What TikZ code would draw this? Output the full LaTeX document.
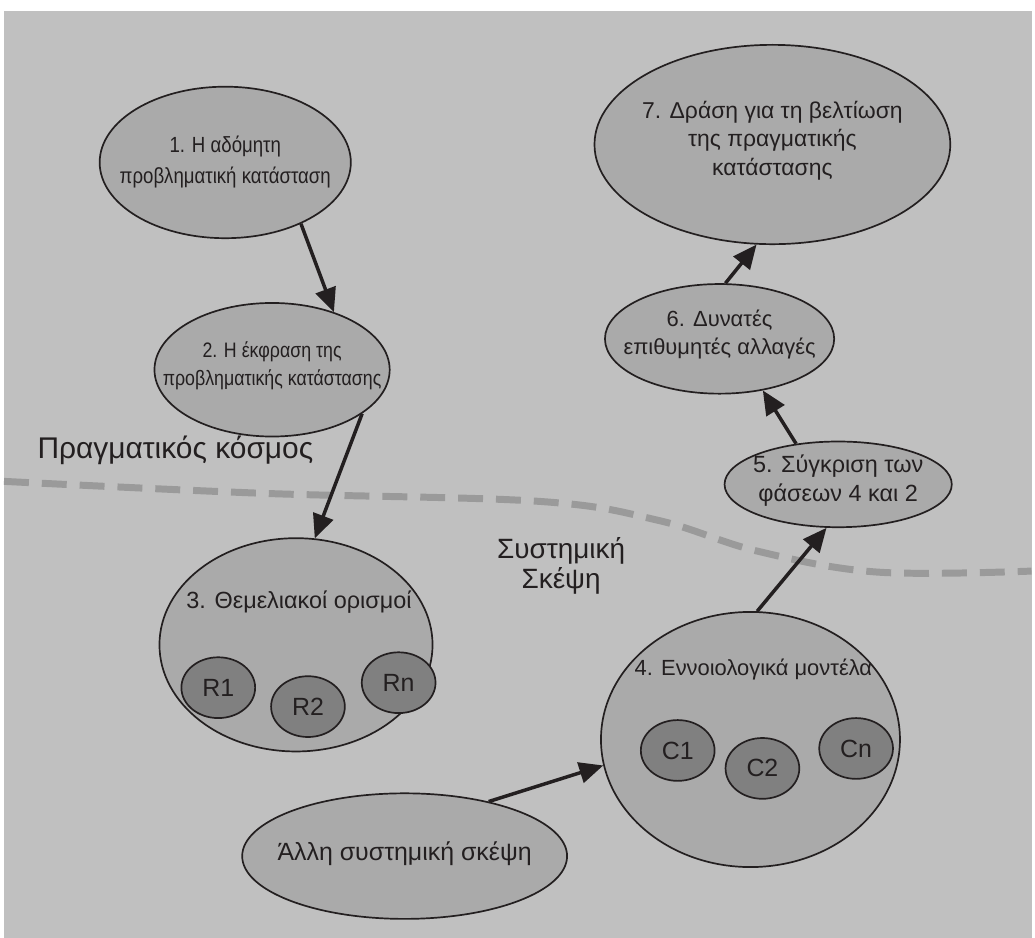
\documentclass[tikz,border=0pt]{standalone}
\usepackage{fontspec}
\setmainfont{Liberation Sans}
\newfontfamily\narrowsans[FakeStretch=0.85]{Liberation Sans}
\usetikzlibrary{shapes.geometric,arrows.meta}
\definecolor{bg}{HTML}{C0C0C0}
\definecolor{fillA}{HTML}{AAAAAA}
\definecolor{fillB}{HTML}{808080}
\definecolor{ink}{HTML}{231F20}
\definecolor{dashc}{HTML}{9A9A9A}
\newcommand{\fs}[2]{\fontsize{#1}{#2}\selectfont}
\begin{document}
\begin{tikzpicture}[x=1pt,y=-1pt,
  bubble/.style={ellipse, draw=ink, line width=1.7pt, fill=fillA, inner sep=0pt},
  sub/.style={ellipse, draw=ink, line width=1.7pt, fill=fillB, inner sep=0pt,
    minimum width=74pt, minimum height=61pt},
  subtext/.style={text=ink, font=\fs{25}{28}, inner sep=0pt},
  txt/.style={text=ink, align=center, inner sep=0pt},
  flow/.style={draw=ink, line width=3.5pt, -{Triangle[length=24pt,width=21pt]}},
  region/.style={text=ink, align=center, inner sep=0pt}
]
% canvas
\fill[white] (0,0) rectangle (1035,941);
\fill[bg] (4,11) rectangle (1035,941);

% boundary between the real world and systems thinking
\draw[dashc, line width=7pt, dash pattern=on 25pt off 13pt]
  plot[smooth, tension=0.6] coordinates {(4,483) (264,495) (540,503) (660,522) (760,553) (880,574) (1035,573)};

\node[region, font=\fs{30}{34}] (real) at (176,452) {Πραγματικός κόσμος};
\node[region, font=\fs{28}{30}] (sys) at (563,568) {Συστημική\\Σκέψη};

% stages
\node[bubble, minimum width=252pt, minimum height=152pt] (s1) at (226,163) {};
\node[txt, font=\narrowsans\fs{22}{31}] (s1t) at (s1) {1. Η αδόμητη\\προβληματική κατάσταση};

\node[bubble, minimum width=236pt, minimum height=134pt] (s2) at (273,371) {};
\node[txt, font=\narrowsans\fs{21}{29}] (s2t) at (273,367) {2. Η έκφραση της\\προβληματικής κατάστασης};

\node[bubble, minimum width=274pt, minimum height=214pt] (s3) at (297,647) {};
\node[txt, font=\fs{23.5}{27}] (s3t) at (300,604) {3. Θεμελιακοί ορισμοί};
\node[sub] (r1) at (219,690) {};
\node[sub] (r2) at (309,709) {};
\node[sub] (rn) at (400,685) {};
\node[subtext] (r1t) at (r1) {R1};
\node[subtext] (r2t) at (r2) {R2};
\node[subtext] (rnt) at (rn) {Rn};

\node[bubble, minimum width=300pt, minimum height=256pt] (s4) at (753,742) {};
\node[txt, font=\fs{22}{28}] (s4t) at (756,672) {4. Εννοιολογικά μοντέλα};
\node[sub] (c1) at (680,753) {};
\node[sub] (c2) at (765,771) {};
\node[sub] (cn) at (859,751) {};
\node[subtext] (c1t) at (c1) {C1};
\node[subtext] (c2t) at (c2) {C2};
\node[subtext] (cnt) at (cn) {Cn};

\node[bubble, minimum width=326pt, minimum height=126pt] (other) at (406,859) {};
\node[txt, font=\fs{25}{29}] (othert) at (406,857) {Άλλη συστημική σκέψη};

\node[bubble, minimum width=228pt, minimum height=86pt] (s5) at (841,486) {};
\node[txt, font=\fs{23.5}{29}] (s5t) at (841,482) {5. Σύγκριση των\\φάσεων 4 και 2};

\node[bubble, minimum width=230pt, minimum height=110pt] (s6) at (722,340) {};
\node[txt, font=\fs{22}{28}] (s6t) at (722,336) {6. Δυνατές\\επιθυμητές αλλαγές};

\node[bubble, minimum width=357pt, minimum height=200pt] (s7) at (775,145) {};
\node[txt, font=\fs{23}{28.5}] (s7t) at (775,141) {7. Δράση για τη βελτίωση\\της πραγματικής\\κατάστασης};

% flow of the method
\draw[flow] (s1.-39) -- (s2.43);
\draw[flow] (s2.-26) -- (s3.80);
\draw[flow] (other.33) -- (s4.190);
\draw[flow] (s4.87) -- (s5.255);
\draw[flow] (s5.136) -- (s6.-50);
\draw[flow] (s6.84) -- (s7.261);
\end{tikzpicture}
\end{document}
